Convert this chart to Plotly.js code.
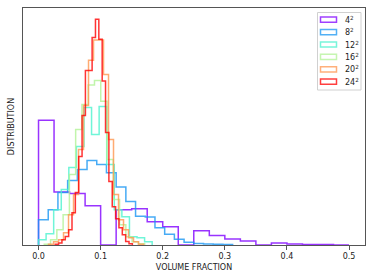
<!DOCTYPE html>
<html>
<head>
<meta charset="utf-8">
<script src="https://cdn.plot.ly/plotly-3.0.1.min.js"></script>
<style>html,body{margin:0;padding:0;background:#fff;}#chart{width:374px;height:280px;}</style>
</head>
<body>
<div id="chart"></div>
<script>
// Series labels (grid sizes) and colours (matplotlib "rainbow" at 0, .2, .4, .6, .8, 1)
const labels = ["4<sup>2</sup>", "8<sup>2</sup>", "12<sup>2</sup>", "16<sup>2</sup>", "20<sup>2</sup>", "24<sup>2</sup>"];
const colors = ["#8000ff", "#1996f2", "#4cf2ce", "#b2f296", "#ff964f", "#ff0000"];

// Histogram bin starts and widths (volume fraction)
const binStart = [0.0, 0.0, 0.0, 0.0093, 0.0161, 0.0269];
const binWidth = [0.025, 0.015625, 0.0122, 0.0101, 0.00805, 0.0054];

// Distribution (density) per bin
const dist4  = [12.46, 5.30, 5.13, 3.93, 0, 3.53, 3.63, 2.33, 1.83, 0, 1.43, 0.96, 0.60, 0.40, 0, 0.20, 0.10, 0.05, 0.05, 0];
const dist8  = [2.53, 3.53, 5.23, 6.43, 7.53, 8.43, 8.03, 7.20, 5.80, 4.33, 2.86, 2.80, 1.73, 1.08, 0.58, 0.28, 0.16, 0.10, 0.07, 0.05];
const dist12 = [0.53, 1.13, 3.53, 5.53, 7.73, 9.83, 13.73, 11.03, 13.83, 8.03, 3.53, 2.83, 0.83, 0.73, 0.33];
const dist16 = [0.08, 0.53, 1.53, 3.03, 7.03, 11.53, 14.03, 15.96, 16.43, 14.36, 8.53, 4.53, 2.03, 0.83, 0.33, 0.13];
const dist20 = [0.08, 0.33, 0.53, 1.23, 3.03, 5.03, 9.53, 13.93, 18.43, 20.46, 20.46, 17.03, 10.53, 5.03, 2.53, 1.53, 0.73, 0.33, 0.08];
const dist24 = [0.08, 0.20, 0.53, 0.86, 1.53, 3.23, 5.23, 8.83, 12.93, 17.43, 17.43, 20.70, 22.53, 20.53, 16.36, 11.23, 6.33, 3.83, 2.63, 1.73, 1.03, 0.36, 0.13];
const allDist = [dist4, dist8, dist12, dist16, dist20, dist24];

const xTicks = [0, 0.1, 0.2, 0.3, 0.4, 0.5];
const xTickText = ["0.0", "0.1", "0.2", "0.3", "0.4", "0.5"];

function stepTrace(d, x0, w, color) {
  const xs = [x0], ys = [0];
  for (let i = 0; i < d.length; i++) { xs.push(x0 + i * w); ys.push(d[i]); }
  xs.push(x0 + d.length * w); ys.push(0);
  return {x: xs, y: ys, type: "scatter", mode: "lines",
          line: {shape: "hv", color: color, width: 1.5}, opacity: 0.8,
          hoverinfo: "skip", showlegend: false};
}

const traces = allDist.map((d, i) => stepTrace(d, binStart[i], binWidth[i], colors[i]));

let ymax = 0;
allDist.forEach(d => d.forEach(v => { if (v > ymax) ymax = v; }));

// Manual legend with outlined patches (paper coordinates)
const W = 374, H = 280, mL = 23, mR = 9, mT = 8, mB = 35;
const pw = W - mL - mR, ph = H - mT - mB;
const px = v => (v - mL) / pw;
const py = v => (H - mB - v) / ph;
const shapes = [{type: "rect", xref: "paper", yref: "paper",
  x0: px(317.5), x1: px(361), y0: py(90), y1: py(12.5),
  line: {color: "#d0d0d0", width: 1}, fillcolor: "rgba(255,255,255,0.8)"}];
const annotations = [];
labels.forEach((lab, i) => {
  const cy = 19.7 + i * 12.4;
  shapes.push({type: "rect", xref: "paper", yref: "paper",
    x0: px(320.5), x1: px(336.5), y0: py(cy + 2.6), y1: py(cy - 2.6),
    line: {color: colors[i], width: 1.5}, opacity: 0.75, fillcolor: "rgba(0,0,0,0)"});
  annotations.push({xref: "paper", yref: "paper", x: px(342.5), y: py(cy),
    xanchor: "left", yanchor: "middle", text: lab, showarrow: false,
    font: {family: "DejaVu Sans", size: 8, color: "#222"}});
});

const layout = {
  width: W, height: H,
  margin: {l: mL, r: mR, t: mT, b: mB, pad: 0},
  paper_bgcolor: "#fff", plot_bgcolor: "#fff",
  font: {family: "DejaVu Sans", size: 8, color: "#222"},
  xaxis: {range: [-0.025, 0.5257], tickvals: xTicks, ticktext: xTickText,
    ticks: "outside", ticklen: 3.5, tickwidth: 1, tickcolor: "#555",
    showline: true, linecolor: "#555", linewidth: 1.2, mirror: true,
    showgrid: false, zeroline: false,
    tickfont: {family: "DejaVu Sans", size: 8, color: "#222"},
    title: {text: "VOLUME FRACTION", font: {family: "DejaVu Sans", size: 8, color: "#222"}, standoff: 4}},
  yaxis: {range: [0, ymax * 1.05], showticklabels: false, ticks: "",
    showline: true, linecolor: "#555", linewidth: 1.2, mirror: true,
    showgrid: false, zeroline: false,
    title: {text: "DISTRIBUTION", font: {family: "DejaVu Sans", size: 8, color: "#222"}, standoff: 6}},
  shapes: shapes, annotations: annotations
};

Plotly.newPlot("chart", traces, layout, {staticPlot: true, displayModeBar: false});
</script>
</body>
</html>
